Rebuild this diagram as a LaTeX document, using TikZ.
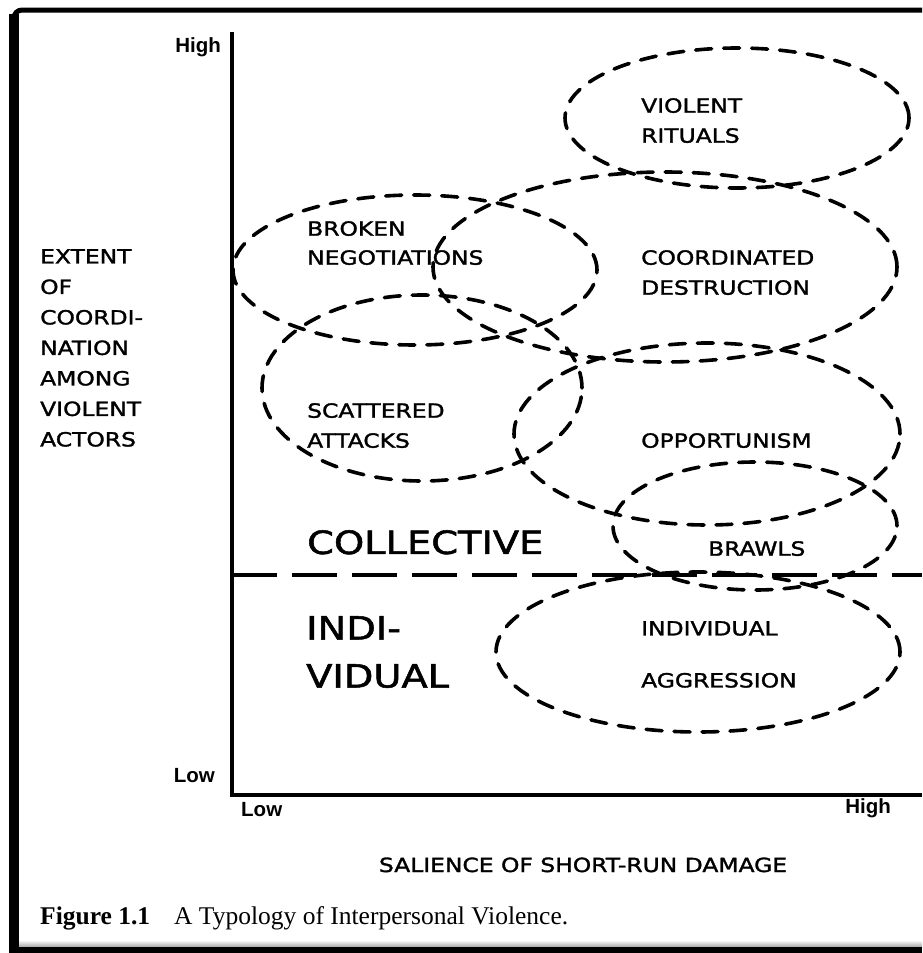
\documentclass[tikz,border=0pt]{standalone}
\usepackage{fontspec}
% hand-lettered look for the chart labels
\newfontfamily\handfont[FakeStretch=1.2, FakeBold=1.6]{DejaVu Sans}
\newfontfamily\axisfont{Liberation Sans}
\newfontfamily\capfont{Liberation Serif}

\begin{document}
\begin{tikzpicture}[x=1pt,y=-1pt,
  zone/.style={line width=3.6pt, dash pattern=on 16pt off 12pt, line cap=round},
  lbl/.style={font=\handfont\fontsize{19.5}{30}\selectfont, align=left, anchor=north west, inner sep=0pt},
  biglbl/.style={font=\handfont\fontsize{32}{48}\selectfont, align=left, anchor=north west, inner sep=0pt},
  tick/.style={font=\axisfont\bfseries\fontsize{20.5}{24}\selectfont, inner sep=0pt},
  axisline/.style={line width=3.5pt},
  divider/.style={line width=4pt, dash pattern=on 45pt off 15pt}
]
\useasboundingbox (0,0) rectangle (922,953);
\fill[white] (0,0) rectangle (922,953);

% page frame with drop shadow
\fill[black] (9,14) rectangle (19,953);
\draw[line width=5pt, rounded corners=8pt] (14,953) -- (14,10) -- (922,10);
\shade[top color=white, bottom color=gray!70] (19,940) rectangle (922,947);
\fill[black] (9,947) rectangle (922,953);

% axes
\coordinate (ytop) at (232,32);
\coordinate (origin) at (232,795);
\coordinate (xend) at (922,795);
\draw[axisline] (ytop) -- (origin) -- (xend);

\node[tick, anchor=east] (yhigh) at (221,47) {High};
\node[tick, anchor=east] (ylow) at (215,776) {Low};
\node[tick, anchor=west] (xlow) at (241,810) {Low};
\node[tick, anchor=east] (xhigh) at (891,808) {High};

% collective / individual divider
\coordinate (sepL) at (232,575);
\coordinate (sepR) at (922,575);
\draw[divider] (sepL) -- (sepR);

% zones
\draw[zone] (737,118) ellipse [x radius=172pt, y radius=70pt];
\draw[zone] (415,270) ellipse [x radius=182pt, y radius=75pt];
\draw[zone] (665,267) ellipse [x radius=232pt, y radius=95pt];
\draw[zone] (422,388) ellipse [x radius=160pt, y radius=93pt];
\draw[zone] (707,434) ellipse [x radius=193pt, y radius=91pt];
\draw[zone] (755,526) ellipse [x radius=142pt, y radius=64pt];
\draw[zone] (698,652) ellipse [x radius=202pt, y radius=80pt];

% zone labels
\node[lbl] (rituals) at (641,98) {VIOLENT\\RITUALS};
\node[lbl, font=\handfont\fontsize{19.5}{29}\selectfont] (broken) at (307,221) {BROKEN\\NEGOTIATIONS};
\node[lbl] (coord) at (641,250) {COORDINATED\\DESTRUCTION};
\node[lbl] (scatter) at (307,403) {SCATTERED\\ATTACKS};
\node[lbl] (opport) at (641,433) {OPPORTUNISM};
\node[lbl] (brawls) at (708,541) {BRAWLS};
\node[lbl, font=\handfont\fontsize{19.5}{52}\selectfont] (aggress) at (641,621) {INDIVIDUAL\\AGGRESSION};

% level labels
\node[biglbl] (collective) at (307,530) {COLLECTIVE};
\node[biglbl] (individual) at (306,616) {INDI-\\VIDUAL};

% axis titles
\node[lbl, font=\handfont\fontsize{19.5}{30.5}\selectfont] (ytitle) at (40,249) {EXTENT\\OF\\COORDI-\\NATION\\AMONG\\VIOLENT\\ACTORS};
\node[lbl, anchor=base] (xtitle) at (583,872) {SALIENCE OF SHORT-RUN DAMAGE};

% caption
\node[anchor=base west, inner sep=0pt, font=\capfont\fontsize{25.5}{30}\selectfont] (caption) at (40,924)
  {\textbf{Figure 1.1}\hspace{24pt}A Typology of Interpersonal Violence.};
\end{tikzpicture}
\end{document}
